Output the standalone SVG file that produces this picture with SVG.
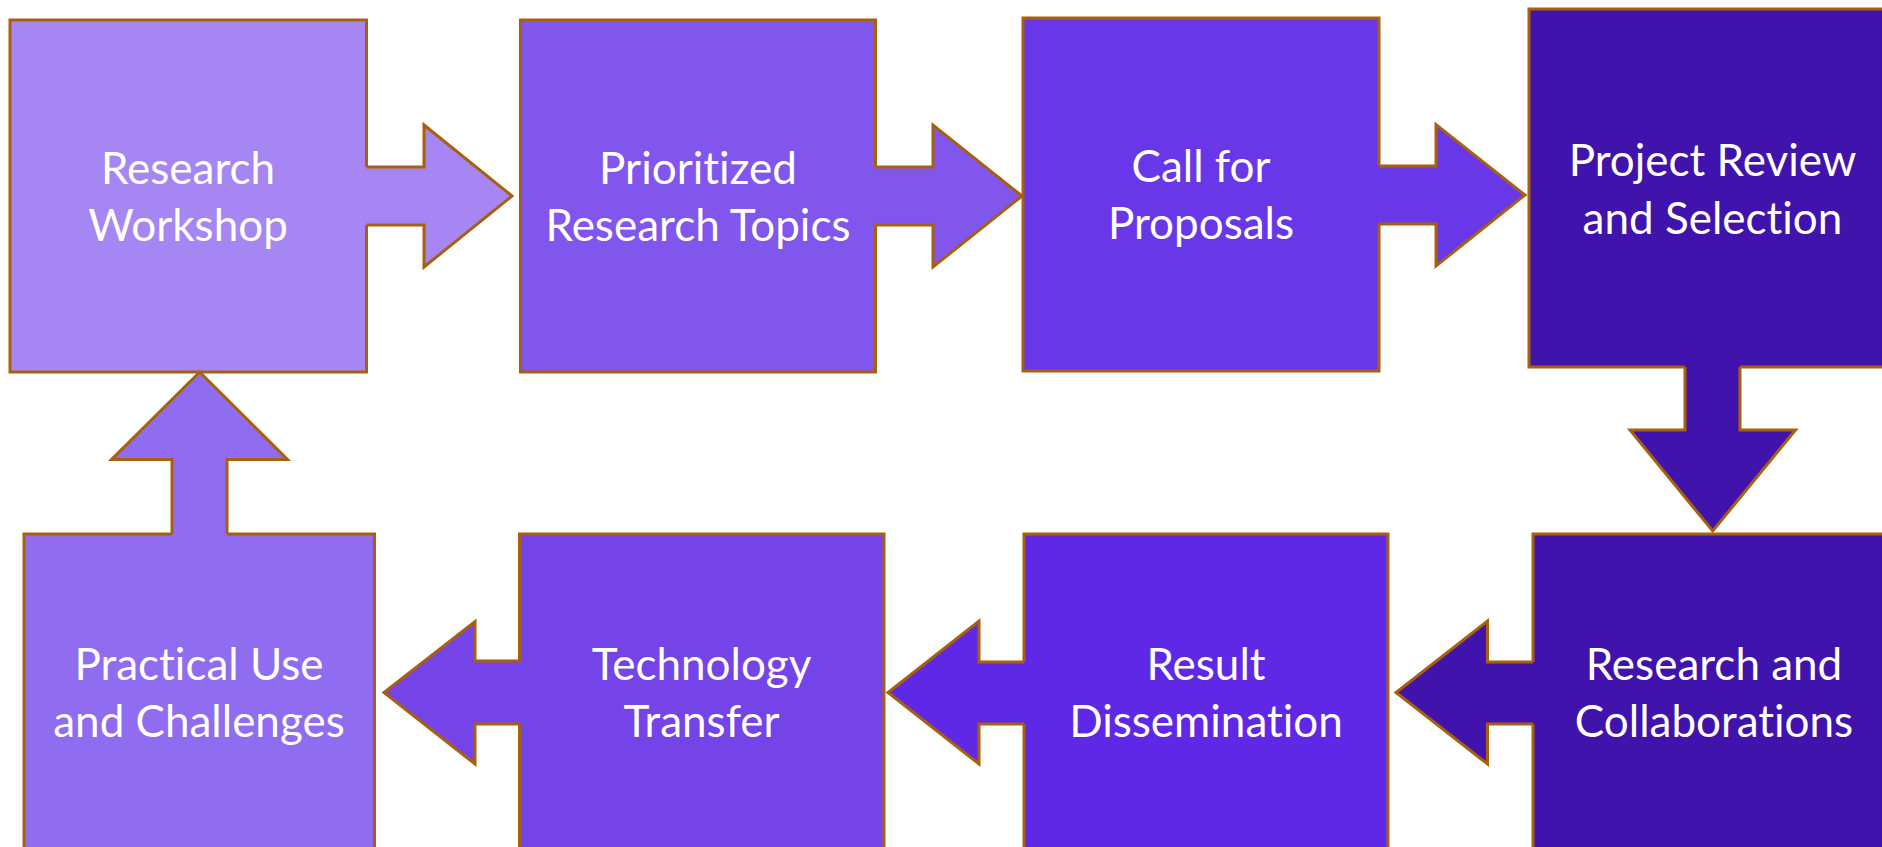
<svg xmlns="http://www.w3.org/2000/svg" width="1882" height="847" viewBox="0 0 1882 847">
<style>
.box{stroke:#A8600F;stroke-width:3;stroke-linejoin:miter}
.af{stroke:none}
.as{fill:none;stroke:#A8600F;stroke-width:3;stroke-linejoin:miter}
.t{font-family:Lato,"Open Sans","Liberation Sans",sans-serif;font-size:44px;fill:#FFFFFF;text-anchor:middle;font-variant-ligatures:none;font-feature-settings:"liga" 0,"dlig" 0}
</style>
<rect width="1882" height="847" fill="#FFFFFF"/>
<g id="n1"><rect class="box" x="10" y="20" width="356.5" height="352" fill="#A586F2"/>
<text class="t" x="188" y="184">Research</text><text class="t" x="188" y="241">Workshop</text></g>
<g id="n2"><rect class="box" x="520.5" y="20" width="355" height="352" fill="#8056ED"/>
<text class="t" x="698" y="183.5">Prioritized</text><text class="t" x="698" y="240.5">Research Topics</text></g>
<g id="n3"><rect class="box" x="1023" y="18" width="356" height="353" fill="#6837E8"/>
<text class="t" x="1201" y="182">Call for</text><text class="t" x="1201" y="239">Proposals</text></g>
<g id="n4"><rect class="box" x="1529" y="9" width="367" height="358" fill="#4013AC"/>
<text class="t" x="1712.5" y="176">Project Review</text><text class="t" x="1712.5" y="233.5">and Selection</text></g>
<g id="n8"><rect class="box" x="1533" y="534" width="360" height="346" fill="#4013AC"/>
<text class="t" x="1714" y="680">Research and</text><text class="t" x="1714" y="737">Collaborations</text></g>
<g id="n7"><rect class="box" x="1024" y="534" width="364" height="346" fill="#5E28E6"/>
<text class="t" x="1206" y="680">Result</text><text class="t" x="1206" y="737">Dissemination</text></g>
<g id="n6"><rect class="box" x="519.5" y="534" width="364.5" height="346" fill="#7444E9"/>
<text class="t" x="701.5" y="680">Technology</text><text class="t" x="701.5" y="737">Transfer</text></g>
<g id="n5"><rect class="box" x="24" y="534" width="350.5" height="346" fill="#8F6CF0"/>
<text class="t" x="199" y="680">Practical Use</text><text class="t" x="199" y="737">and Challenges</text></g>
<g id="connectors">
<polygon class="af" fill="#A586F2" points="364,167 424,167 424,125 512,196 424,267 424,225 364,225"/>
<polyline class="as" points="366.5,167 424,167 424,125 512,196 424,267 424,225 366.5,225"/>
<polygon class="af" fill="#8056ED" points="873,167 933,167 933,125 1022,196 933,267 933,225 873,225"/>
<polyline class="as" points="875.5,167 933,167 933,125 1022,196 933,267 933,225 875.5,225"/>
<polygon class="af" fill="#6837E8" points="1376.5,166 1436,166 1436,124.5 1525,195 1436,266 1436,224 1376.5,224"/>
<polyline class="as" points="1379,166 1436,166 1436,124.5 1525,195 1436,266 1436,224 1379,224"/>
<polygon class="af" fill="#4013AC" points="1685,364.5 1685,430 1630,430 1712.7,531 1795.5,430 1740,430 1740,364.5"/>
<polyline class="as" points="1685,367 1685,430 1630,430 1712.7,531 1795.5,430 1740,430 1740,367"/>
<polygon class="af" fill="#4013AC" points="1535.5,662 1487.5,662 1487.5,621 1396,692.5 1487.5,764 1487.5,724 1535.5,724"/>
<polyline class="as" points="1533,662 1487.5,662 1487.5,621 1396,692.5 1487.5,764 1487.5,724 1533,724"/>
<polygon class="af" fill="#5E28E6" points="1026.5,662 979,662 979,621 888,692.5 979,764 979,724 1026.5,724"/>
<polyline class="as" points="1024,662 979,662 979,621 888,692.5 979,764 979,724 1024,724"/>
<polygon class="af" fill="#7444E9" points="522,661 475,661 475,621.5 384,692.5 475,764 475,724 522,724"/>
<polyline class="as" points="519.5,661 475,661 475,621.5 384,692.5 475,764 475,724 519.5,724"/>
<polygon class="af" fill="#8F6CF0" points="172,536.5 172,459.5 111.5,459.5 199.7,372 287.5,459.5 227,459.5 227,536.5"/>
<polyline class="as" points="172,534 172,459.5 111.5,459.5 199.7,372 287.5,459.5 227,459.5 227,534"/>
</g>
</svg>
